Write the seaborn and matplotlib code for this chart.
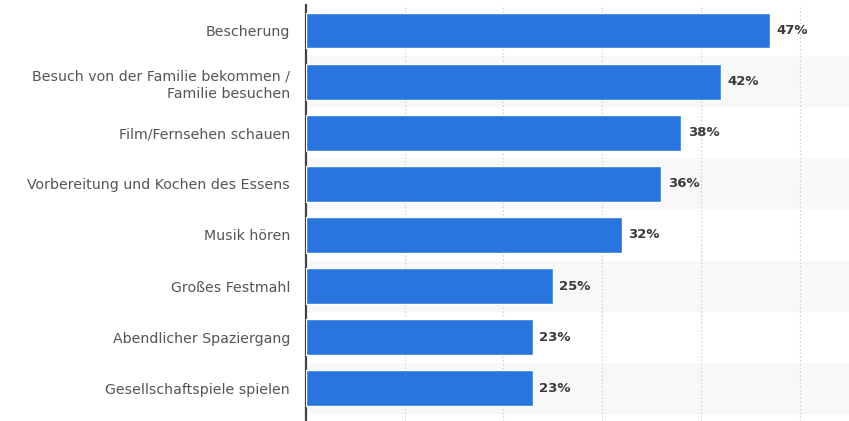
import pandas as pd
import matplotlib.pyplot as plt
import seaborn as sns

aktivitaeten = [
    'Bescherung',
    'Besuch von der Familie bekommen /\nFamilie besuchen',
    'Film/Fernsehen schauen',
    'Vorbereitung und Kochen des Essens',
    'Musik hören',
    'Großes Festmahl',
    'Abendlicher Spaziergang',
    'Gesellschaftspiele spielen',
]
anteil = [47, 42, 38, 36, 32, 25, 23, 23]

df = pd.DataFrame({'aktivitaet': aktivitaeten, 'anteil': anteil})

sns.set_style('white')
plt.rcParams['font.family'] = ['DejaVu Sans']

fig = plt.figure(figsize=(8.49, 4.21), dpi=100)
ax = fig.add_axes([306 / 849, 0, 1 - 306 / 849, 1 - 5 / 421])

# alternierende Zeilenhintergründe
for i in range(len(aktivitaeten)):
    if i % 2 == 1:
        ax.axhspan(i - 0.5, i + 0.5, color='#f8f8f8', zorder=0, lw=0)

sns.barplot(data=df, x='anteil', y='aktivitaet', color='#2876dd', width=0.7,
            saturation=1, ax=ax, zorder=3)

for i, v in enumerate(anteil):
    ax.text(v + 0.65, i, f'{v}%', va='center', ha='left', fontsize=9.5,
            fontweight='bold', color='#3a3a3a', zorder=4)

ax.set_xlim(0, 55)
ax.set_ylim(7.64, -0.5)
ax.set_xticks([10, 20, 30, 40, 50])
ax.xaxis.grid(True, linestyle=(0, (1, 2)), color='#c8c8c8', lw=0.9, zorder=1)
ax.set_axisbelow(True)
ax.tick_params(axis='x', labelbottom=False, length=0)
ax.tick_params(axis='y', length=0, pad=11.5, labelsize=10.2, labelcolor='#555555')
for lbl in ax.get_yticklabels():
    lbl.set_linespacing(1.35)
ax.set_xlabel('')
ax.set_ylabel('')
for s in ['top', 'right', 'bottom']:
    ax.spines[s].set_visible(False)
ax.spines['left'].set_color('#444444')
ax.spines['left'].set_linewidth(1.6)

fig.savefig('out.png', dpi=100)
